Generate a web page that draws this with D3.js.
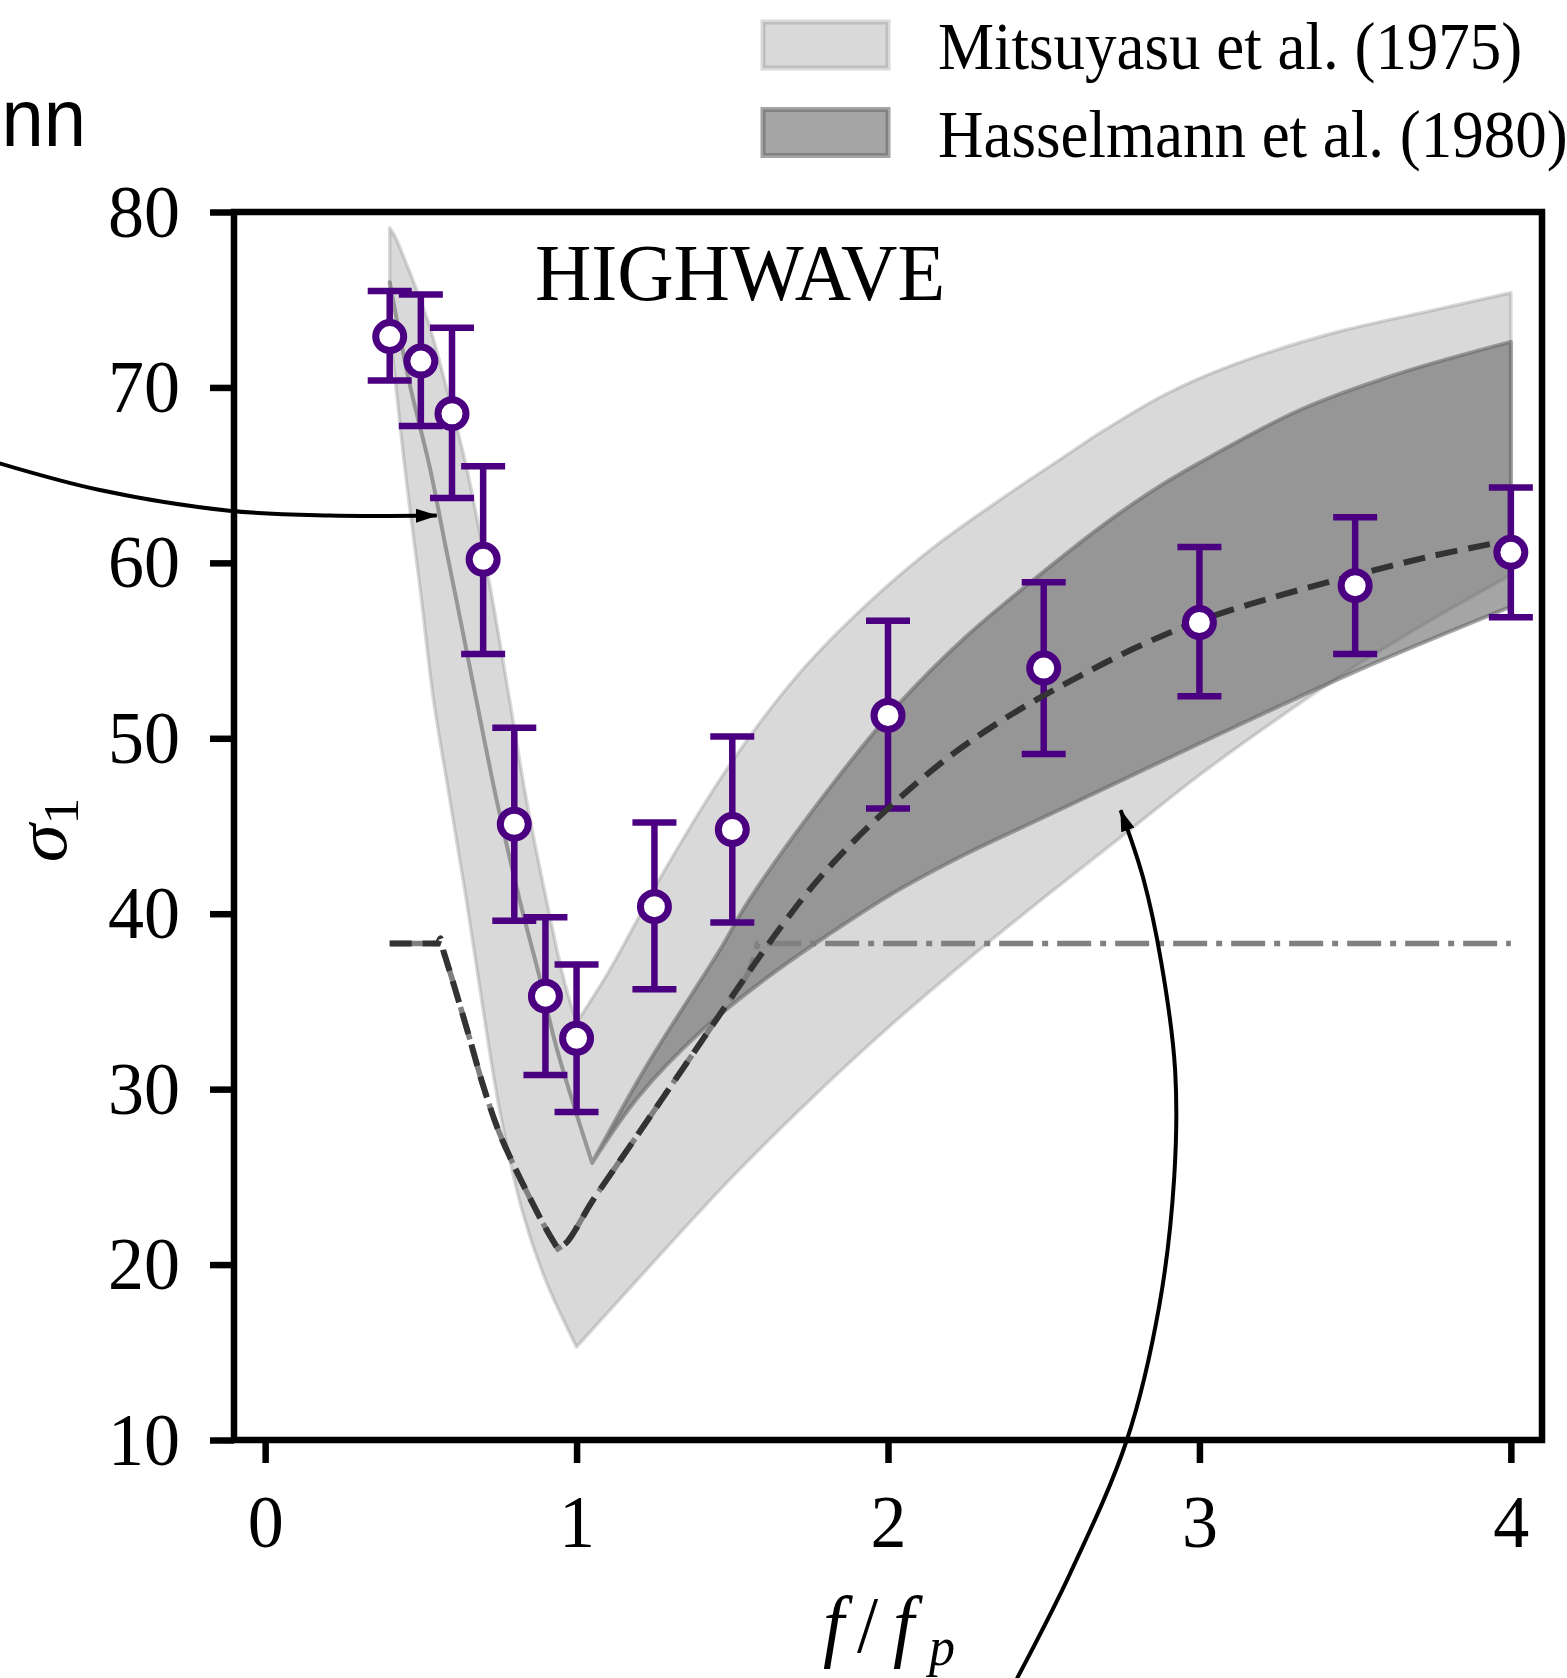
<!DOCTYPE html>
<html>
<head>
<meta charset="utf-8">
<script src="https://cdn.jsdelivr.net/npm/d3@7"></script>
<style>
  html, body { margin: 0; padding: 0; background: #fff; }
  svg { display: block; }
</style>
</head>
<body>
<div id="chart"></div>
<script>
/* sigma_1 vs f/fp - HIGHWAVE panel, redrawn with D3 v7 */

// observations (circles + error bars)
var fRatio   = [0.4, 0.5, 0.6, 0.7, 0.8, 0.9, 1.0, 1.25, 1.5, 2.0, 2.5, 3.0, 3.5, 4.0];
var sigmaObs = [72.9, 71.5, 68.5, 60.2, 45.1, 35.3, 32.9, 40.4, 44.8, 51.3, 54.0, 56.6, 58.7, 60.6];
var sigmaHi  = [75.5, 75.3, 73.4, 65.5, 50.6, 39.8, 37.1, 45.2, 50.1, 56.7, 58.9, 60.9, 62.6, 64.3];
var sigmaLo  = [70.4, 67.8, 63.7, 54.8, 39.6, 30.8, 28.7, 35.7, 39.5, 46.0, 49.1, 52.4, 54.8, 56.9];

// Mitsuyasu et al. (1975) band
var mitsuUpX = [0.40, 0.42, 0.45, 0.475, 0.528, 0.582, 0.646, 0.70, 0.73, 0.785, 0.839, 0.903, 0.96, 1.00,
                1.10, 1.29, 1.50, 1.72, 1.93, 2.14, 2.36, 2.57, 2.68, 2.89, 3.11, 3.43, 3.75, 4.00];
var mitsuUpY = [79.1, 78.5, 77.2, 76.1, 73.5, 70.0, 65.5, 60.7, 57.9, 52.2, 46.5, 40.8, 36.2, 33.8,
                36.6, 42.7, 48.7, 53.8, 57.6, 60.8, 63.6, 66.1, 67.4, 69.6, 71.3, 73.1, 74.4, 75.4];
var mitsuLoX = [0.40, 0.448, 0.502, 0.539, 0.593, 0.646, 0.689, 0.753, 0.828, 0.903, 1.00,
                1.25, 1.50, 1.75, 2.00, 2.25, 2.50, 2.75, 3.00, 3.25, 3.50, 3.75, 4.00];
var mitsuLoY = [73.5, 65.5, 57.9, 52.4, 46.5, 40.8, 35.8, 28.8, 22.9, 19.0, 15.3,
                20.2, 25.0, 29.4, 33.5, 37.3, 40.9, 44.4, 47.9, 51.1, 54.1, 56.8, 59.3];

// Hasselmann et al. (1980) band: single curve below 1.05 fp, then a band
var hassLeftX = [0.40, 0.464, 0.528, 0.582, 0.614, 0.678, 0.743, 0.817, 0.881, 0.935, 1.05];
var hassLeftY = [76.0, 70.2, 65.5, 60.7, 57.9, 52.2, 46.5, 40.8, 36.4, 32.4, 25.8];
var hassUpX = [1.05, 1.224, 1.459, 1.555, 1.823, 2.037, 2.251, 2.465, 2.679, 2.84, 3.0, 3.321, 3.642, 4.0];
var hassUpY = [25.8, 31.3, 37.9, 40.8, 47.4, 52.0, 55.8, 59.0, 62.0, 64.0, 65.7, 68.7, 70.8, 72.6];
var hassLoX = [1.05, 1.2, 1.4, 1.6, 1.8, 2.0, 2.25, 2.5, 2.75, 3.0, 3.5, 4.0];
var hassLoY = [25.8, 29.6, 33.3, 36.2, 38.7, 41.0, 43.4, 45.5, 47.6, 49.7, 53.8, 57.5];

// model curves
var modelX = [0.40, 0.555, 0.563, 0.572, 0.60, 0.65, 0.70, 0.75, 0.80, 0.85, 0.90, 0.94, 0.97,
              1.05, 1.15, 1.25, 1.35, 1.45, 1.55, 1.65, 1.75, 1.85, 2.00, 2.20, 2.40, 2.60, 2.80,
              3.00, 3.25, 3.50, 3.75, 4.00];
var modelY = [38.3, 38.3, 38.6, 37.9, 36.3, 33.3, 30.2, 27.6, 25.6, 23.8, 22.1, 20.9, 21.3,
              23.6, 26.2, 28.8, 31.4, 34.0, 36.6, 39.1, 41.4, 43.4, 46.0, 49.0, 51.4, 53.4, 55.2,
              56.7, 58.1, 59.3, 60.4, 61.3];
var cappedX = [0.40, 0.555, 0.572, 0.60, 0.65, 0.70, 0.75, 0.80, 0.85, 0.90, 0.94, 0.97,
               1.05, 1.15, 1.25, 1.35, 1.45, 1.55, 1.582, 4.00];
var cappedY = [38.3, 38.3, 37.9, 36.3, 33.3, 30.2, 27.6, 25.6, 23.8, 22.1, 20.9, 21.3,
               23.6, 26.2, 28.8, 31.4, 34.0, 36.6, 38.3, 38.3];

// annotation arrows (data coordinates, run off the axes)
var arrowLeftX  = [-0.868, -0.531, -0.115, 0.207, 0.551];
var arrowLeftY  = [65.75, 64.15, 62.97, 62.70, 62.70];
var arrowRightX = [2.414, 2.585, 2.767, 2.871, 2.919, 2.922, 2.878, 2.819, 2.747];
var arrowRightY = [-3.6, 2.4, 10.0, 17.65, 24.97, 31.07, 37.17, 42.06, 45.9];

var xTicks = [0, 1, 2, 3, 4];
var yTicks = [10, 20, 30, 40, 50, 60, 70, 80];
var legendLabels = ['Mitsuyasu et al. (1975)', 'Hasselmann et al. (1980)'];
var panelTitle = 'HIGHWAVE';

(function() {
  var W = 1567, H = 1678;
  var SERIF = "'Liberation Serif', 'Times New Roman', serif";
  var SY = 1.07;        // glyphs in the source are slightly tall
  var INDIGO = '#4b0082';
  var LIGHT = 'rgba(128,128,128,0.3)';
  var DARK = 'rgba(105,105,105,0.6)';

  var svg = d3.select('#chart').append('svg')
    .attr('width', W).attr('height', H)
    .attr('viewBox', [0, 0, W, H]);

  var x = d3.scaleLinear().domain([-0.1, 4.1]).range([234, 1542]);
  var y = d3.scaleLinear().domain([10, 80]).range([1440, 212]);

  function zip(xs, ys) { return xs.map(function(v, i) { return [v, ys[i]]; }); }

  var smooth = d3.line().curve(d3.curveCatmullRom.alpha(0.5))
    .x(function(d) { return x(d[0]); }).y(function(d) { return y(d[1]); });

  // cut a polyline into pieces at the given x values (corners stay sharp)
  function pieces(pts, breaks) {
    var out = [], cur = [];
    pts.forEach(function(p) {
      cur.push(p);
      if (cur.length > 1 && breaks.indexOf(p[0]) >= 0) { out.push(cur); cur = [p]; }
    });
    if (cur.length > 1) out.push(cur);
    return out;
  }
  function joined(list) {
    return list.map(function(seg, i) {
      var s = smooth(seg);
      return i === 0 ? s : 'L' + s.slice(1);
    }).join('');
  }
  function reversed(list) {
    return list.slice().reverse().map(function(seg) { return seg.slice().reverse(); });
  }
  function bandPath(up, lo, breaks) {
    return joined(pieces(up, breaks).concat(reversed(pieces(lo, breaks)))) + 'Z';
  }

  function stretched(sel, tx, ty, sy) {
    return sel.attr('transform', 'translate(' + tx + ',' + ty + ') scale(1,' + (sy || SY) + ')');
  }

  var defs = svg.append('defs');
  defs.append('marker')
    .attr('id', 'head')
    .attr('viewBox', '0 0 22 14')
    .attr('refX', 21).attr('refY', 7)
    .attr('markerWidth', 22).attr('markerHeight', 14)
    .attr('markerUnits', 'userSpaceOnUse')
    .attr('orient', 'auto')
    .append('path').attr('d', 'M0,0 L22,7 L0,14 Z').attr('fill', '#000');

  // Bands
  svg.append('path')
    .attr('d', bandPath(zip(mitsuUpX, mitsuUpY), zip(mitsuLoX, mitsuLoY), [1.00]))
    .attr('fill', LIGHT).attr('stroke', LIGHT).attr('stroke-width', 3.5)
    .attr('stroke-linejoin', 'round');

  var hassLeft = zip(hassLeftX, hassLeftY);
  svg.append('path')
    .attr('d', bandPath(hassLeft.concat(zip(hassUpX, hassUpY).slice(1)),
                        hassLeft.concat(zip(hassLoX, hassLoY).slice(1)), [1.05]))
    .attr('fill', DARK).attr('stroke', DARK).attr('stroke-width', 4)
    .attr('stroke-linejoin', 'round');

  // Error bars
  var obs = fRatio.map(function(f, i) {
    return { f: f, s: sigmaObs[i], hi: sigmaHi[i], lo: sigmaLo[i] };
  });
  var eb = svg.append('g').attr('stroke', INDIGO).attr('stroke-width', 6.5);
  eb.selectAll('line.v').data(obs).join('line').attr('class', 'v')
    .attr('x1', function(d) { return x(d.f); }).attr('x2', function(d) { return x(d.f); })
    .attr('y1', function(d) { return y(d.hi); }).attr('y2', function(d) { return y(d.lo); });
  ['hi', 'lo'].forEach(function(k) {
    eb.selectAll('line.c' + k).data(obs).join('line').attr('class', 'c' + k)
      .attr('x1', function(d) { return x(d.f) - 22; }).attr('x2', function(d) { return x(d.f) + 22; })
      .attr('y1', function(d) { return y(d[k]); }).attr('y2', function(d) { return y(d[k]); });
  });

  // Model lines
  svg.append('path')
    .attr('d', joined(pieces(zip(cappedX, cappedY), [0.555, 0.572, 0.94, 1.582])))
    .attr('fill', 'none').attr('stroke', '#808080').attr('stroke-width', 5.5)
    .attr('stroke-dasharray', '34 9 6 9');
  svg.append('path')
    .attr('d', joined(pieces(zip(modelX, modelY), [0.555, 0.572, 0.94])))
    .attr('fill', 'none').attr('stroke', '#333333').attr('stroke-width', 6)
    .attr('stroke-dasharray', '22 11');

  // Markers
  svg.append('g').selectAll('circle').data(obs).join('circle')
    .attr('cx', function(d) { return x(d.f); })
    .attr('cy', function(d) { return y(d.s); })
    .attr('r', 14)
    .attr('fill', '#fff').attr('stroke', INDIGO).attr('stroke-width', 7);

  // Axes
  var gx = svg.append('g').attr('transform', 'translate(0,' + y(10) + ')')
    .call(d3.axisBottom(x).tickValues(xTicks).tickSize(23).tickSizeOuter(0).tickFormat(d3.format('d')));
  var gy = svg.append('g').attr('transform', 'translate(' + x(-0.1) + ',0)')
    .call(d3.axisLeft(y).tickValues(yTicks).tickSize(24).tickSizeOuter(0).tickFormat(d3.format('d')));
  [gx, gy].forEach(function(g) {
    g.select('.domain').remove();
    g.attr('font-family', SERIF).attr('font-size', 72);
    g.selectAll('.tick line').attr('stroke', '#000').attr('stroke-width', 6.5);
    g.selectAll('.tick text').attr('fill', '#000').attr('x', 0).attr('y', 0).attr('dy', null);
  });
  gx.selectAll('.tick text').each(function() { stretched(d3.select(this), 0, 107, 1.02); });
  gy.selectAll('.tick text').each(function() { stretched(d3.select(this), -54, 24, 1.02); });

  // Frame
  svg.append('rect')
    .attr('x', x(-0.1)).attr('y', y(80))
    .attr('width', x(4.1) - x(-0.1)).attr('height', y(10) - y(80))
    .attr('fill', 'none').attr('stroke', '#000').attr('stroke-width', 6.5);

  // Axis labels
  var xl = svg.append('text').attr('font-family', SERIF).attr('font-size', 76).attr('fill', '#000');
  stretched(xl, 0, 1652);
  xl.append('tspan').attr('x', 823).attr('font-style', 'italic').text('f');
  xl.append('tspan').attr('x', 857).text('/');
  xl.append('tspan').attr('x', 893).attr('font-style', 'italic').text('f');
  xl.append('tspan').attr('x', 929).attr('dy', 12).attr('font-size', 52).attr('font-style', 'italic').text('p');

  var yl = svg.append('text').attr('font-family', SERIF).attr('font-size', 72).attr('fill', '#000')
    .attr('text-anchor', 'middle')
    .attr('transform', 'translate(66,830) rotate(-90) scale(' + SY + ',1)');
  yl.append('tspan').attr('font-style', 'italic').text('σ');
  yl.append('tspan').attr('dy', 12).attr('font-size', 50).text('1');

  // Panel title
  stretched(svg.append('text').attr('font-family', SERIF).attr('font-size', 78).attr('fill', '#000')
    .text(panelTitle), 535, 300, 1.03);

  // Legend
  var fills = [LIGHT, DARK];
  legendLabels.forEach(function(label, i) {
    var top = 22 + i * 87.5;
    svg.append('rect')
      .attr('x', 763).attr('y', top).attr('width', 125).attr('height', 46)
      .attr('fill', fills[i]).attr('stroke', fills[i]).attr('stroke-width', 5);
    stretched(svg.append('text').attr('font-family', SERIF).attr('font-size', 63).attr('fill', '#000')
      .text(label), 938, top + 47);
  });

  // Text from neighbouring panel, cut at the edge
  stretched(svg.append('text').attr('font-family', "'Liberation Sans', Arial, sans-serif")
    .attr('font-size', 76).attr('fill', '#000').attr('text-anchor', 'end').text('nn'), 86, 146);

  // Annotation arrows
  [zip(arrowLeftX, arrowLeftY), zip(arrowRightX, arrowRightY)].forEach(function(pts) {
    svg.append('path')
      .attr('d', smooth(pts))
      .attr('fill', 'none').attr('stroke', '#000').attr('stroke-width', 4)
      .attr('marker-end', 'url(#head)');
  });
})();
</script>
</body>
</html>
